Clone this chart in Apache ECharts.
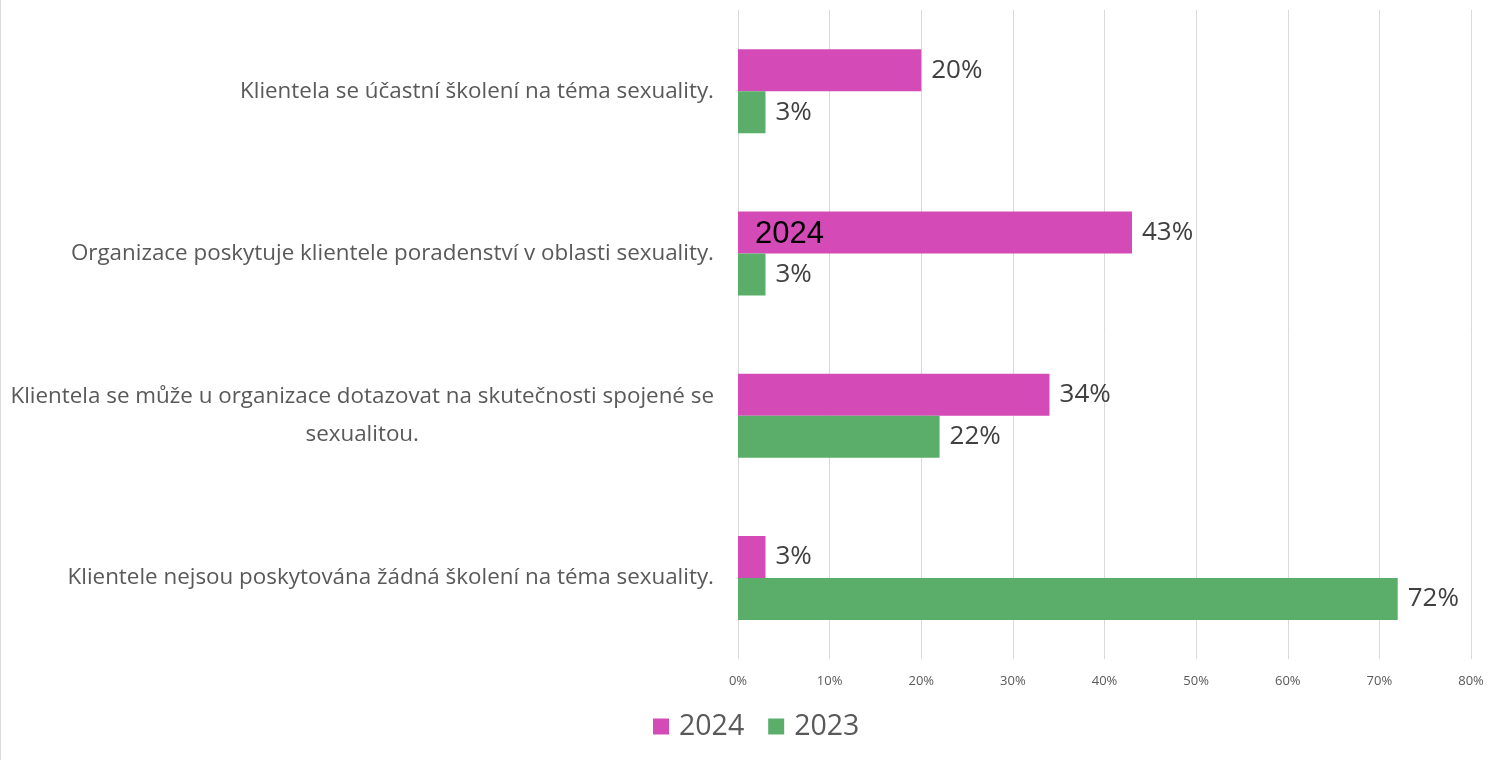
<!DOCTYPE html>
<html>
<head>
<meta charset="utf-8">
<title>Sexualita klientely</title>
<style>
  html, body { margin: 0; padding: 0; background: #fff; }
  #chart { width: 1497px; height: 760px; }
</style>
<script src="https://cdn.jsdelivr.net/npm/echarts@6/dist/echarts.min.js"></script>
</head>
<body>
<div id="chart"></div>
<script>
// data
var categories = [
  'Klientela se účastní školení na téma sexuality.',
  'Organizace poskytuje klientele poradenství v oblasti sexuality.',
  'Klientela se může u organizace dotazovat na skutečnosti spojené se\nsexualitou.',
  'Klientele nejsou poskytována žádná školení na téma sexuality.'
];
var values2024 = [20, 43, 34, 3];
var values2023 = [3, 3, 22, 72];
var seriesNames = ['2024', '2023'];

var font = '"Open Sans", "Noto Sans", sans-serif';

var chart = echarts.init(document.getElementById('chart'));

function barSeries(name, data, color) {
  return {
    name: name,
    type: 'bar',
    data: data,
    barWidth: 42,
    barGap: '0%',
    itemStyle: { color: color },
    label: {
      show: true,
      position: 'right',
      distance: 10,
      formatter: '{c}%',
      fontFamily: font,
      fontSize: 26,
      color: '#404040'
    }
  };
}

chart.setOption({
  animation: false,
  grid: { left: 738, right: 26, top: 10, bottom: 101 },
  legend: {
    bottom: 14,
    left: 648,
    itemWidth: 16,
    itemHeight: 16,
    itemGap: 24,
    icon: 'rect',
    textStyle: { fontFamily: font, fontSize: 28.5, color: '#595959', padding: [0, 0, 0, 5] },
    data: seriesNames
  },
  xAxis: {
    type: 'value',
    min: 0,
    max: 80,
    interval: 10,
    axisLine: { show: false },
    axisTick: { show: false },
    axisLabel: { formatter: '{value}%', fontFamily: font, fontSize: 13, color: '#595959', margin: 16 },
    splitLine: { lineStyle: { color: '#d9d9d9' } }
  },
  yAxis: {
    type: 'category',
    inverse: true,
    data: categories,
    axisLine: { show: false },
    axisTick: { show: false },
    axisLabel: {
      margin: 24,
      formatter: function (v) { return '{c|' + v.split('\n').join('}\n{c|') + '}'; },
      rich: { c: { align: 'center', fontFamily: font, fontSize: 22.4, color: '#595959', lineHeight: 38 } }
    }
  },
  graphic: [
    { type: 'rect', z: 100, shape: { x: 0, y: 0, width: 1, height: 760 }, style: { fill: '#d9d9d9' } },
    { type: 'text', z: 100, left: 755, top: 219, style: { text: '2024', fontFamily: 'Arial, "Liberation Sans", sans-serif', fontSize: 31, fill: '#000' } }
  ],
  series: [
    barSeries(seriesNames[0], values2024, '#d44bb8'),
    barSeries(seriesNames[1], values2023, '#5aae6a')
  ]
});
</script>
</body>
</html>
